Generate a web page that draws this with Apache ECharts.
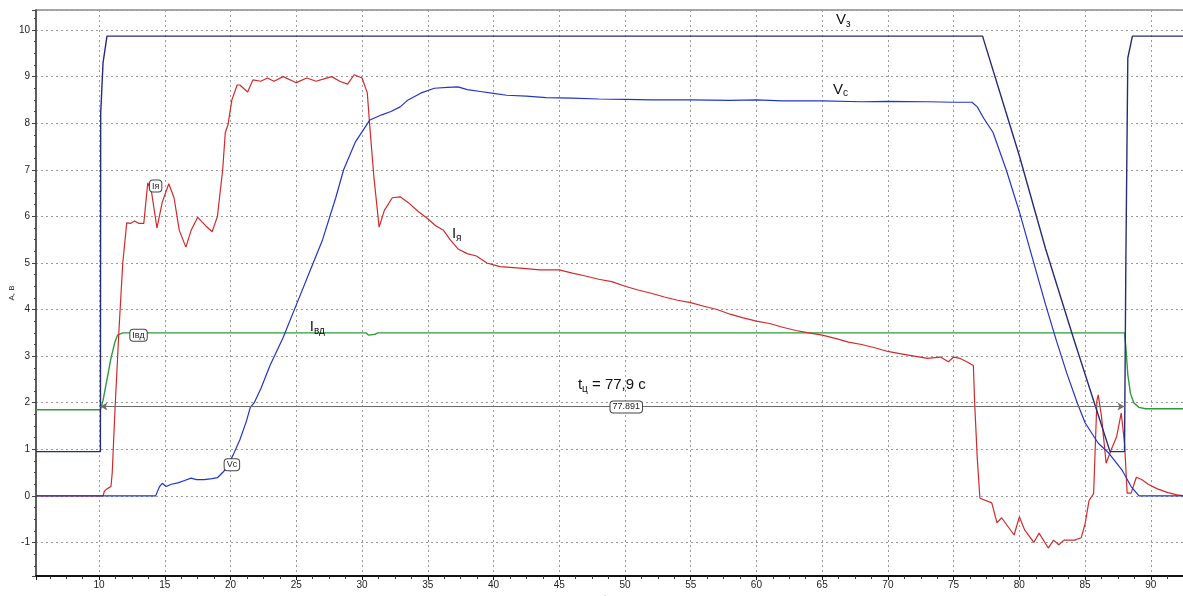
<!DOCTYPE html>
<html>
<head>
<meta charset="utf-8">
<script src="https://cdn.jsdelivr.net/npm/echarts@6/dist/echarts.min.js"></script>
<style>
  html, body { margin: 0; padding: 0; background: #fff; }
  #chart { width: 1183px; height: 596px; }
</style>
</head>
<body>
<div id="chart"></div>
<script>
// оси
const tMin = 5.2
const tMax = 92.6
const yMin = -1.72
const yMax = 10.43

// Vз - заданное напряжение
const vz = [
  [5.2, 0.95], [10.1, 0.95], [10.12, 8.2], [10.3, 9.3], [10.6, 9.87],
  [77.2, 9.87], [80, 7.3], [82, 5.3], [84.1, 3.4], [85.7, 2.0], [86.9, 0.95],
  [88.0, 0.95], [88.1, 5.0], [88.25, 9.4], [88.6, 9.87], [92.6, 9.87]
]

// Vc - скорость
const vc = [
  [5.2, 0], [14.3, 0], [14.6, 0.2], [14.8, 0.27], [15.1, 0.2], [15.5, 0.25], [16, 0.28],
  [16.5, 0.33], [17, 0.38], [17.4, 0.35], [18, 0.35], [18.6, 0.37], [19.0, 0.39],
  [19.6, 0.56], [20.2, 0.88], [20.7, 1.2], [21.2, 1.6], [21.5, 1.9], [21.8, 2.0],
  [22.3, 2.3], [23, 2.8], [24, 3.4], [25, 4.1], [26, 4.8], [27, 5.5], [28, 6.4],
  [28.6, 7.0], [29.5, 7.6], [30.6, 8.07], [31.5, 8.18], [32.2, 8.25], [32.9, 8.35],
  [33.5, 8.5], [34.5, 8.65], [35.5, 8.75], [36.5, 8.77], [37.3, 8.78], [38, 8.72],
  [39, 8.68], [40, 8.64], [41, 8.6], [42.5, 8.58], [44, 8.55], [46, 8.54], [48, 8.52],
  [50, 8.51], [52, 8.5], [55, 8.5], [58, 8.49], [60, 8.5], [62, 8.48], [65, 8.48],
  [68, 8.46], [70, 8.47], [73, 8.46], [75, 8.45], [76.4, 8.45], [76.8, 8.35],
  [77.3, 8.1], [78, 7.8], [79, 7.0], [80, 6.1], [81, 5.1], [82, 4.1], [82.8, 3.35],
  [83.6, 2.64], [84.4, 2.0], [85, 1.57], [86, 1.13], [86.8, 0.92], [87.8, 0.56],
  [88.5, 0.2], [89.1, 0], [92.6, 0]
]

// Iя - ток якоря
const ia = [
  [5.2, 0], [10.3, 0], [10.4, 0.1], [10.6, 0.15], [10.9, 0.2], [11.0, 0.5], [11.2, 1.8],
  [11.5, 3.5], [11.8, 5.0], [12.1, 5.86], [12.4, 5.85], [12.7, 5.9], [13.0, 5.85],
  [13.4, 5.85], [13.7, 6.72], [14.0, 6.5], [14.4, 5.75], [14.8, 6.3], [15.3, 6.7],
  [15.7, 6.4], [16.1, 5.7], [16.6, 5.34], [17.0, 5.7], [17.5, 5.98], [18.1, 5.8],
  [18.6, 5.67], [19.0, 6.0], [19.4, 7.0], [19.6, 7.8], [19.8, 7.96], [20.1, 8.5],
  [20.5, 8.82], [20.7, 8.82], [21.3, 8.67], [21.7, 8.93], [22.3, 8.9], [22.8, 8.97],
  [23.3, 8.9], [24.0, 9.0], [25.0, 8.87], [25.8, 8.97], [26.5, 8.9], [27.1, 8.95],
  [27.7, 9.0], [28.3, 8.9], [28.9, 8.84], [29.4, 9.04], [30.0, 8.97], [30.4, 8.65],
  [30.6, 7.9], [30.9, 6.85], [31.3, 5.77], [31.7, 6.13], [32.3, 6.4], [32.9, 6.42],
  [33.5, 6.3], [34.3, 6.1], [35.0, 5.95], [35.6, 5.8], [36.2, 5.7], [36.7, 5.5],
  [37.3, 5.3], [38, 5.2], [38.7, 5.15], [39.5, 5.0], [40.5, 4.92], [41.5, 4.9],
  [42.5, 4.88], [43.5, 4.85], [45, 4.85], [46, 4.78], [47, 4.72], [48, 4.65],
  [49, 4.6], [50, 4.5], [51, 4.42], [52, 4.35], [53, 4.27], [54, 4.2], [55, 4.15],
  [56, 4.07], [57, 4.0], [58, 3.9], [59, 3.82], [60, 3.75], [61, 3.7], [62, 3.62],
  [63, 3.55], [64, 3.5], [65, 3.45], [66, 3.38], [67, 3.3], [68, 3.25], [69, 3.18],
  [70, 3.1], [71, 3.05], [72, 3.0], [73, 2.95], [74, 2.98], [74.6, 2.88], [75.0, 2.98],
  [75.5, 2.95], [76.0, 2.88], [76.5, 2.8], [76.6, 2.0], [76.8, 0.8], [77.0, -0.05],
  [77.9, -0.15], [78.3, -0.58], [78.65, -0.47], [79.6, -0.84], [80.0, -0.45],
  [80.4, -0.73], [81.1, -1.0], [81.5, -0.8], [82.2, -1.12], [82.6, -0.95], [83.0, -1.05],
  [83.4, -0.95], [84.2, -0.95], [84.7, -0.9], [85.0, -0.6], [85.3, -0.1], [85.65, 0.05],
  [85.9, 2.05], [86.0, 2.17], [86.25, 1.7], [86.6, 0.7], [87.0, 1.0], [87.4, 1.27],
  [87.75, 1.78], [88.0, 1.13], [88.2, 0.06], [88.5, 0.06], [88.9, 0.4], [89.3, 0.35],
  [89.8, 0.25], [90.5, 0.15], [91.3, 0.07], [92, 0.02], [92.6, 0]
]

// Iвд - ток возбуждения
const ivd = [
  [5.2, 1.85], [10.1, 1.85], [10.3, 2.05], [10.6, 2.5], [10.9, 2.95], [11.2, 3.3],
  [11.4, 3.45], [11.8, 3.5], [30.3, 3.5], [30.5, 3.45], [31, 3.47], [31.2, 3.5],
  [88.0, 3.5], [88.1, 3.2], [88.25, 2.6], [88.45, 2.2], [88.7, 2.0], [89.1, 1.9],
  [89.6, 1.87], [92.6, 1.87]
]

// курсор измерения времени цикла
const cursorT = [10.1, 88.0]
const cursorLevel = 1.92

const font = 'Liberation Sans, Arial, sans-serif'

function tag(text, coord) {
  return {
    coord,
    symbol: 'rect',
    symbolSize: 1,
    itemStyle: { color: 'transparent' },
    label: {
      show: true,
      position: 'inside',
      formatter: text,
      fontSize: 9,
      fontFamily: font,
      color: '#222',
      backgroundColor: '#fff',
      borderColor: '#444',
      borderWidth: 1,
      borderRadius: 3,
      padding: [1, 2]
    }
  }
}

const rich = {
  b: { fontSize: 15, fontFamily: font, color: '#111' },
  s: { fontSize: 10, fontFamily: font, color: '#111', padding: [8, 0, 0, 0] }
}

function caption(main, sub, rest, coord) {
  return {
    coord,
    symbol: 'rect',
    symbolSize: 1,
    itemStyle: { color: 'transparent' },
    label: {
      show: true,
      position: 'inside',
      formatter: '{b|' + main + '}{s|' + sub + '}' + (rest ? '{b|' + rest + '}' : ''),
      rich
    }
  }
}

const gridLine = { show: true, lineStyle: { color: '#9a9a9a', type: [2, 3], width: 1 } }

const option = {
  animation: false,
  backgroundColor: '#fff',
  grid: {
    left: 36, right: -2, top: 10, bottom: 20,
    containLabel: false,
    outerBoundsMode: 'none',
    show: true, borderColor: '#8a8a8a', borderWidth: 1.5
  },
  xAxis: {
    type: 'value',
    min: tMin,
    max: tMax,
    splitNumber: 17,
    name: 't, с',
    nameLocation: 'middle',
    nameGap: 17,
    nameTextStyle: { fontSize: 10, fontFamily: font, color: '#222' },
    axisLine: { onZero: false, lineStyle: { color: '#111', width: 2 } },
    axisTick: { lineStyle: { color: '#111' }, length: 4 },
    minorTick: { show: true, splitNumber: 4, length: 3, lineStyle: { color: '#333' } },
    axisLabel: {
      showMinLabel: false,
      showMaxLabel: false,
      fontSize: 10,
      fontFamily: font,
      color: '#222',
      margin: 4
    },
    splitLine: gridLine
  },
  yAxis: {
    type: 'value',
    min: yMin,
    max: yMax,
    splitNumber: 12,
    name: 'А, В',
    nameLocation: 'middle',
    nameRotate: 90,
    nameGap: 20,
    nameMoveOverlap: false,
    nameTextStyle: { fontSize: 8, fontFamily: font, color: '#222' },
    axisLine: { show: true, lineStyle: { color: '#444', width: 1.5 } },
    axisTick: { show: true, lineStyle: { color: '#444' }, length: 4 },
    minorTick: { show: true, splitNumber: 4, length: 2, lineStyle: { color: '#444' } },
    axisLabel: {
      showMinLabel: false,
      showMaxLabel: false,
      fontSize: 10,
      fontFamily: font,
      color: '#222',
      margin: 6
    },
    splitLine: gridLine
  },
  series: [
    {
      name: 'Iвд',
      type: 'line',
      data: ivd,
      showSymbol: false,
      lineStyle: { color: '#2f9a3c', width: 1.4 },
      markPoint: {
        data: [
          tag('Iвд', [13.0, 3.45]),
          caption('I', 'вд', '', [26.6, 3.62])
        ]
      }
    },
    {
      name: 'Iя',
      type: 'line',
      data: ia,
      showSymbol: false,
      lineStyle: { color: '#d22a2a', width: 1.2 },
      markPoint: {
        data: [
          tag('Iя', [14.3, 6.65]),
          caption('I', 'я', '', [37.2, 5.62])
        ]
      }
    },
    {
      name: 'Vc',
      type: 'line',
      data: vc,
      showSymbol: false,
      lineStyle: { color: '#2334c8', width: 1.2 },
      markPoint: {
        data: [
          tag('Vc', [20.1, 0.67]),
          caption('V', 'c', '', [66.4, 8.72])
        ]
      }
    },
    {
      name: 'Vз',
      type: 'line',
      data: vz,
      showSymbol: false,
      lineStyle: { color: '#262c78', width: 1.4 },
      markPoint: {
        data: [
          caption('V', 'з', '', [66.6, 10.22])
        ]
      }
    },
    {
      name: 'tц',
      type: 'line',
      data: [],
      markLine: {
        silent: true,
        symbol: ['arrow', 'arrow'],
        symbolSize: [6, 7],
        lineStyle: { color: '#6e6e6e', width: 1.2, type: 'solid' },
        label: { show: false },
        data: [[
          { coord: [cursorT[0], cursorLevel] },
          { coord: [cursorT[1], cursorLevel] }
        ]]
      },
      markPoint: {
        data: [
          tag('77.891', [50.1, 1.91]),
          caption('t', 'ц', ' = 77,9 с', [49.0, 2.38])
        ]
      }
    }
  ]
}

const myChart = echarts.init(document.getElementById('chart'))
myChart.setOption(option)
</script>
</body>
</html>
